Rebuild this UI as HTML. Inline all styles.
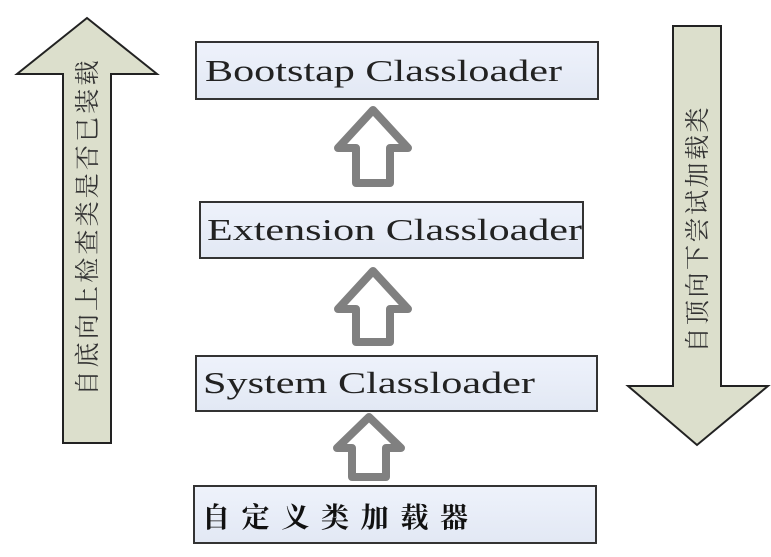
<!DOCTYPE html>
<html><head><meta charset="utf-8"><style>
body{margin:0;background:#fff;}
svg{display:block}
</style></head><body>
<svg width="771" height="557" viewBox="0 0 771 557" xmlns="http://www.w3.org/2000/svg">
<defs>
<linearGradient id="bx" x1="0" y1="0" x2="0" y2="1"><stop offset="0" stop-color="#eef2fb"/><stop offset="1" stop-color="#e2e8f4"/></linearGradient>
</defs>
<polygon points="87,18 157,74 111,74 111,443 63,443 63,74 17,74" fill="#dcdfcc" stroke="#222" stroke-width="2"/>
<text transform="translate(96,228) rotate(-90)" text-anchor="middle" font-family="'Liberation Serif','Noto Serif CJK SC',serif" font-size="25" fill="#333" textLength="335" lengthAdjust="spacing">自底向上检查类是否已装载</text>
<polygon points="673,26 721,26 721,386 768,386 697,445 628,386 673,386" fill="#dcdfcc" stroke="#222" stroke-width="2"/>
<text transform="translate(706,230) rotate(-90)" text-anchor="middle" font-family="'Liberation Serif','Noto Serif CJK SC',serif" font-size="25" fill="#333" textLength="245" lengthAdjust="spacing">自顶向下尝试加载类</text>
<rect x="196" y="42" width="402" height="57" fill="url(#bx)" stroke="#333" stroke-width="2"/>
<text x="205" y="81" font-family="'Liberation Serif',serif" font-size="31" fill="#222" textLength="357" lengthAdjust="spacingAndGlyphs">Bootstap Classloader</text>
<rect x="200" y="202" width="383" height="56" fill="url(#bx)" stroke="#333" stroke-width="2"/>
<text x="207" y="240" font-family="'Liberation Serif',serif" font-size="31" fill="#222" textLength="375" lengthAdjust="spacingAndGlyphs">Extension Classloader</text>
<rect x="196" y="356" width="401" height="55" fill="url(#bx)" stroke="#333" stroke-width="2"/>
<text x="203" y="393" font-family="'Liberation Serif',serif" font-size="31" fill="#222" textLength="332" lengthAdjust="spacingAndGlyphs">System Classloader</text>
<rect x="194" y="486" width="402" height="57" fill="url(#bx)" stroke="#333" stroke-width="2"/>
<text x="202" y="527" font-family="'Liberation Serif','Noto Serif CJK SC',serif" font-size="28" font-weight="bold" fill="#111" textLength="266" lengthAdjust="spacing">自定义类加载器</text>
<g fill="#fff" stroke="#808080" stroke-width="8" stroke-linejoin="round">
<polygon points="373,110 408,148 390,148 390,183 356,183 356,148 338,148"/>
<polygon points="373,271 408,309 390,309 390,342 356,342 356,309 338,309"/>
<polygon points="369,417 401,448 386,448 386,477 352,477 352,448 337,448"/>
</g>
</svg>
</body></html>
